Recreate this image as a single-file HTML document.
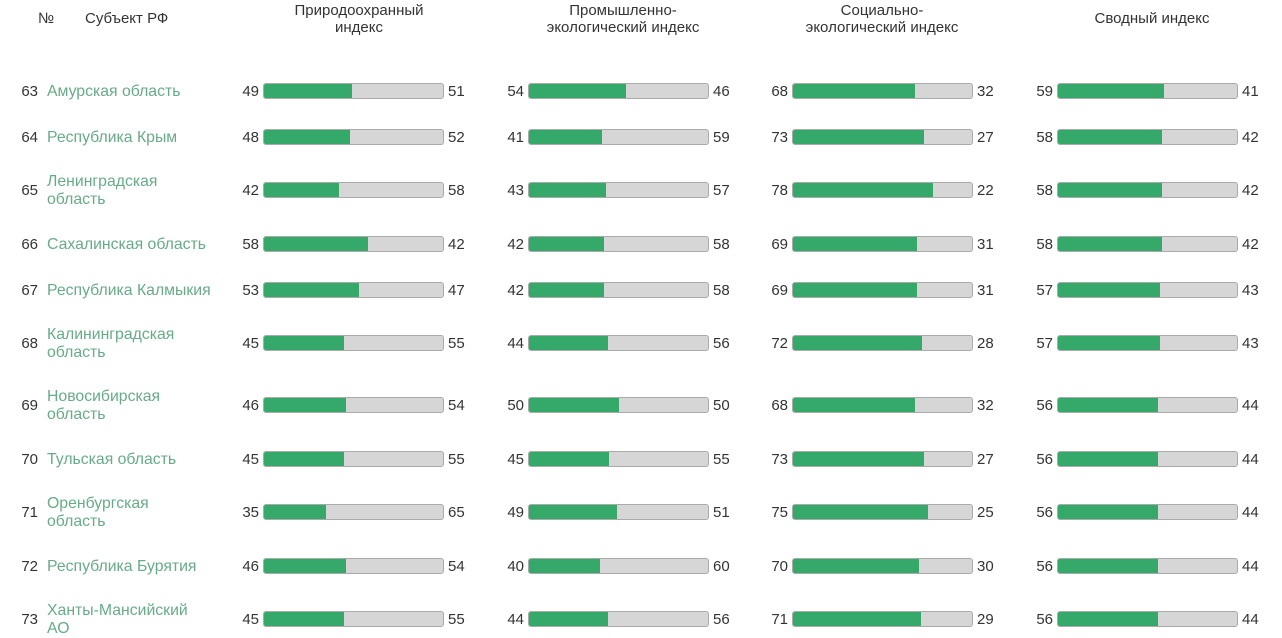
<!DOCTYPE html>
<html><head><meta charset="utf-8"><style>
body{margin:0;width:1282px;height:638px;background:#fff;font-family:"Liberation Sans",sans-serif;font-size:15px;color:#333;position:relative;overflow:hidden}
.h{position:absolute;text-align:center;line-height:17px;color:#333}
.r{position:absolute;left:0;width:1282px;height:18px;line-height:18px}
.r>div{position:absolute}
.n{left:10px;width:28px;text-align:right}
.t{left:47px;color:#68ab88;white-space:nowrap;font-size:15.8px}
.t2{top:-9px;line-height:18px}
.a{width:40px;text-align:right}
.b{top:0px;width:181px;height:16px;box-sizing:border-box;border:1px solid #aaa;border-radius:3px;background:#d6d6d6;overflow:hidden}
.b i{display:block;height:100%;background:#35a96a}
</style></head><body>
<div class="h" style="left:38px;top:10px">№</div>
<div class="h" style="left:85px;top:10px">Субъект РФ</div>
<div class="h" style="left:259px;width:200px;top:2px">Природоохранный<br>индекс</div>
<div class="h" style="left:518px;width:210px;top:2px">Промышленно-<br>экологический индекс</div>
<div class="h" style="left:777px;width:210px;top:2px">Социально-<br>экологический индекс</div>
<div class="h" style="left:1052px;width:200px;top:10px">Сводный индекс</div>
<div id="rows"></div>
<script>
var d=[[63,"Амурская область",49,54,68,59,90],[64,"Республика Крым",48,41,73,58,136],[65,"Ленинградская<br>область",42,43,78,58,189],[66,"Сахалинская область",58,42,69,58,243],[67,"Республика Калмыкия",53,42,69,57,289],[68,"Калининградская<br>область",45,44,72,57,342],[69,"Новосибирская<br>область",46,50,68,56,404],[70,"Тульская область",45,45,73,56,458],[71,"Оренбургская<br>область",35,49,75,56,511],[72,"Республика Бурятия",46,40,70,56,565],[73,"Ханты-Мансийский<br>АО",45,44,71,56,618]];
var X=[263,528,792,1057],h="";
d.forEach(function(r){
 h+='<div class="r" style="top:'+(r[6]-7)+'px"><div class="n">'+r[0]+'</div><div class="t'+(r[1].indexOf('<br>')>0?' t2':'')+'">'+r[1]+'</div>';
 for(var k=0;k<4;k++){var v=r[2+k],x=X[k];
  h+='<div class="a" style="left:'+(x-44)+'px">'+v+'</div><div class="b" style="left:'+x+'px"><i style="width:'+(v*1.81-1)+'px"></i></div><div style="left:'+(x+185)+'px">'+(100-v)+'</div>';}
 h+='</div>';});
document.getElementById('rows').innerHTML=h;
</script>
</body></html>
